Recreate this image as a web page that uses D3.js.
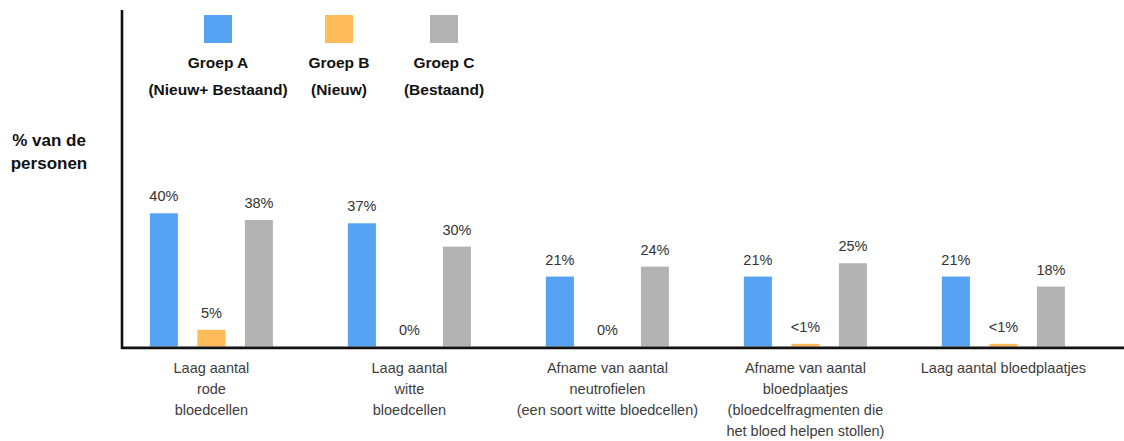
<!DOCTYPE html>
<html>
<head>
<meta charset="utf-8">
<script src="https://cdn.jsdelivr.net/npm/d3@7"></script>
<style>
  html, body { margin: 0; padding: 0; background: #ffffff; }
  svg { display: block; font-family: "Liberation Sans", Arial, Helvetica, sans-serif; }
</style>
</head>
<body>
<svg id="chart" width="1124" height="441"></svg>
<script>
// Categories (each entry is one label, split into its display lines)
const categories = [
  ["Laag aantal", "rode", "bloedcellen"],
  ["Laag aantal", "witte", "bloedcellen"],
  ["Afname van aantal", "neutrofielen", "(een soort witte bloedcellen)"],
  ["Afname van aantal", "bloedplaatjes", "(bloedcelfragmenten die", "het bloed helpen stollen)"],
  ["Laag aantal bloedplaatjes"]
];

// Series: percentage of people per group
const seriesNames = ["Groep A", "Groep B", "Groep C"];
const seriesSubtitles = ["(Nieuw+ Bestaand)", "(Nieuw)", "(Bestaand)"];
const groepA = [40, 37, 21, 21, 21];
const groepB = [5, 0, 0, 0.8, 0.8];
const groepC = [38, 30, 24, 25, 18];

const seriesColors = ["#56a3f3", "#ffbb59", "#b3b3b3"];

const yTitle = ["% van de", "personen"];

// ---- layout ----
const W = 1124, H = 441;
const baseY = 346.5;
const axisX = 122;

const svg = d3.select("#chart");
svg.append("rect").attr("width", W).attr("height", H).attr("fill", "#ffffff");

const catKeys = categories.map((c, i) => "c" + i);
const values = [groepA, groepB, groepC];
const rows = catKeys.map((k, i) => ({
  key: k,
  lines: categories[i],
  vals: seriesNames.map((s, j) => ({ series: j, value: values[j][i] }))
}));

const x0 = d3.scaleBand().domain(catKeys).range([112.4, 1102.4]).paddingInner(0).paddingOuter(0);
const x1 = d3.scaleBand().domain(d3.range(seriesNames.length))
  .range([0, x0.bandwidth()]).paddingInner(0.41).paddingOuter(0.789);
const y = d3.scaleLinear().domain([0, 40]).range([baseY, baseY - 133.2]);

const fmt = v => (v > 0 && v < 1) ? "<1%" : d3.format("d")(v) + "%";

// bars
const groups = svg.append("g").selectAll("g").data(rows).join("g")
  .attr("transform", d => `translate(${x0(d.key)},0)`);

groups.selectAll("rect").data(d => d.vals).join("rect")
  .attr("x", d => x1(d.series))
  .attr("width", x1.bandwidth())
  .attr("y", d => y(d.value))
  .attr("height", d => baseY - y(d.value))
  .attr("fill", d => seriesColors[d.series]);

// value labels
groups.selectAll("text.val").data(d => d.vals).join("text")
  .attr("class", "val")
  .attr("x", d => x1(d.series) + x1.bandwidth() / 2)
  .attr("y", d => y(d.value) - 12)
  .attr("text-anchor", "middle")
  .attr("font-size", "14.5px")
  .attr("fill", "#333333")
  .text(d => fmt(d.value));

// axes lines
svg.append("line")
  .attr("x1", axisX).attr("x2", axisX)
  .attr("y1", 10).attr("y2", 349)
  .attr("stroke", "#111111").attr("stroke-width", 2.6);

const xAxis = d3.axisBottom(x0).tickSize(0).tickFormat("");
const xg = svg.append("g").attr("transform", `translate(0,${baseY + 1.4})`).call(xAxis);
xg.select(".domain").remove();
svg.append("line")
  .attr("x1", axisX - 1).attr("x2", W)
  .attr("y1", baseY + 1.4).attr("y2", baseY + 1.4)
  .attr("stroke", "#111111").attr("stroke-width", 2.7);

// category labels
const catLabels = svg.append("g").selectAll("text").data(rows).join("text")
  .attr("text-anchor", "middle")
  .attr("font-size", "14.5px")
  .attr("fill", "#3d3d3d")
  .attr("transform", d => `translate(${x0(d.key) + x0.bandwidth() / 2},373)`);
catLabels.selectAll("tspan").data(d => d.lines).join("tspan")
  .attr("x", 0)
  .attr("y", (d, i) => i * 21)
  .text(d => d);

// y-axis title
svg.append("text")
  .attr("text-anchor", "middle")
  .attr("font-size", "17px")
  .attr("font-weight", "bold")
  .attr("fill", "#111111")
  .selectAll("tspan").data(yTitle).join("tspan")
  .attr("x", 49)
  .attr("y", (d, i) => 146 + i * 23)
  .text(d => d);

// legend
const legendCenters = [218, 339, 444];
const leg = svg.append("g").selectAll("g").data(seriesNames).join("g")
  .attr("transform", (d, i) => `translate(${legendCenters[i]},0)`);
leg.append("rect")
  .attr("x", -14).attr("y", 15)
  .attr("width", 28).attr("height", 28)
  .attr("fill", (d, i) => seriesColors[i]);
leg.append("text")
  .attr("text-anchor", "middle").attr("y", 68)
  .attr("font-size", "15.5px").attr("font-weight", "bold").attr("fill", "#111111")
  .text(d => d);
leg.append("text")
  .attr("text-anchor", "middle").attr("y", 94.5)
  .attr("font-size", "15.5px").attr("font-weight", "bold").attr("fill", "#111111")
  .text((d, i) => seriesSubtitles[i]);
</script>
</body>
</html>
